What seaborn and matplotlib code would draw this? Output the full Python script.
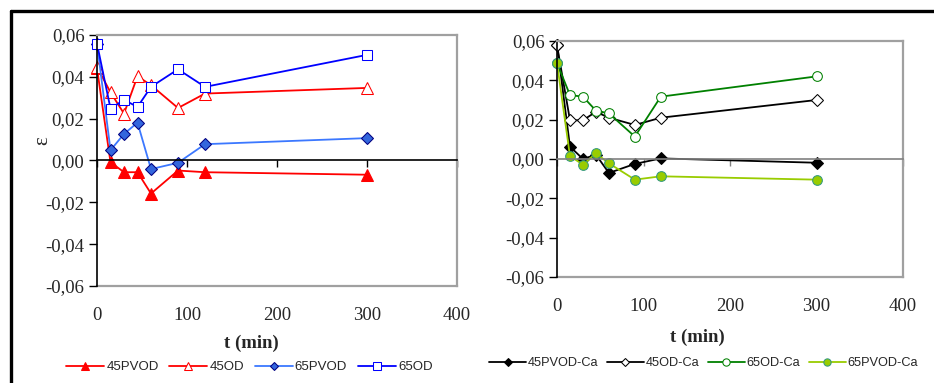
import matplotlib
matplotlib.use("Agg")
import matplotlib.pyplot as plt
import seaborn as sns
import numpy as np

sns.set_theme(style="white")
plt.rcParams["font.family"] = ["Liberation Serif", "DejaVu Serif"]

# Sampling times (min)
t = [0, 15, 30, 45, 60, 90, 120, 300]

# Left panel: strain without calcium
eps_45PVOD = [0.0441, -0.0008, -0.0056, -0.0056, -0.0158, -0.0048, -0.0056, -0.0068]
eps_45OD = [0.0447, 0.0326, 0.0224, 0.0403, 0.0360, 0.0251, 0.0320, 0.0347]
eps_65PVOD = [0.0559, 0.0049, 0.0127, 0.0181, -0.0041, -0.0011, 0.0078, 0.0107]
eps_65OD = [0.0559, 0.0248, 0.0290, 0.0256, 0.0352, 0.0436, 0.0352, 0.0505]

# Right panel: strain with calcium
eps_45PVOD_Ca = [0.0581, 0.0063, 0.0000, 0.0022, -0.0071, -0.0025, 0.0003, -0.0019]
eps_45OD_Ca = [0.0578, 0.0197, 0.0197, 0.0240, 0.0210, 0.0173, 0.0210, 0.0300]
eps_65OD_Ca = [0.0488, 0.0325, 0.0317, 0.0246, 0.0232, 0.0114, 0.0317, 0.0420]
eps_65PVOD_Ca = [0.0488, 0.0015, -0.0029, 0.0029, -0.0022, -0.0105, -0.0088, -0.0105]

y_ticks = [-0.06, -0.04, -0.02, 0.00, 0.02, 0.04, 0.06]
x_ticks = [0, 100, 200, 300, 400]

left_series = [
    ("45PVOD", eps_45PVOD, dict(color="#FF0000", marker="^", markersize=8,
                                markerfacecolor="#FF0000", markeredgecolor="#FF0000")),
    ("45OD", eps_45OD, dict(color="#FF0000", marker="^", markersize=8,
                            markerfacecolor="white", markeredgecolor="#FF0000")),
    ("65PVOD", eps_65PVOD, dict(color="#3C78FF", marker="D", markersize=6,
                                markerfacecolor="#3366DD", markeredgecolor="#000080")),
    ("65OD", eps_65OD, dict(color="#0000FF", marker="s", markersize=7,
                            markerfacecolor="white", markeredgecolor="#0000FF")),
]
right_series = [
    ("45PVOD-Ca", eps_45PVOD_Ca, dict(color="#000000", marker="D", markersize=6,
                                      markerfacecolor="#000000", markeredgecolor="#000000")),
    ("45OD-Ca", eps_45OD_Ca, dict(color="#000000", marker="D", markersize=6,
                                  markerfacecolor="white", markeredgecolor="#000000")),
    ("65OD-Ca", eps_65OD_Ca, dict(color="#008000", marker="o", markersize=7,
                                  markerfacecolor="white", markeredgecolor="#008000")),
    ("65PVOD-Ca", eps_65PVOD_Ca, dict(color="#99CC00", marker="o", markersize=7,
                                      markerfacecolor="#99CC00", markeredgecolor="#339980")),
]

W, H = 934, 383
fig = plt.figure(figsize=(W / 100, H / 100), dpi=100)


def px_axes(x0, y0, x1, y1):
    return fig.add_axes([x0 / W, 1 - y1 / H, (x1 - x0) / W, (y1 - y0) / H])


def style_axes(ax, zero_color):
    ax.set_xlim(0, 400)
    ax.set_ylim(-0.06, 0.06)
    ax.set_yticks(y_ticks)
    ax.set_yticklabels([f"{v:.2f}".replace(".", ",") for v in y_ticks], fontsize=13.5)
    ax.tick_params(axis="y", direction="out", length=6, width=1, color="black",
                   pad=3, left=True)
    for side in ("top", "right"):
        ax.spines[side].set_color("#A0A0A0")
        ax.spines[side].set_linewidth(1.6)
    ax.spines["left"].set_color("black")
    ax.spines["left"].set_linewidth(1.2)
    # horizontal axis drawn through zero, with its ticks pointing down
    ax.spines["bottom"].set_position(("data", 0))
    ax.spines["bottom"].set_color(zero_color)
    ax.spines["bottom"].set_linewidth(1.2)
    ax.set_xticks(x_ticks)
    ax.tick_params(axis="x", direction="out", length=5, width=1, color=zero_color,
                   bottom=True, labelbottom=False)
    # frame bottom edge carrying the time labels
    sec = ax.secondary_xaxis("bottom")
    sec.set_xticks(x_ticks)
    sec.set_xticklabels([str(v) for v in x_ticks], fontsize=13.5)
    sec.tick_params(length=0, pad=15)
    sec.spines["bottom"].set_color("#A0A0A0")
    sec.spines["bottom"].set_linewidth(1.6)
    ax.set_xlabel("")
    ax.set_ylabel("")
    ax.grid(False)


def draw(ax, series):
    for name, vals, kw in series:
        sns.lineplot(x=t, y=vals, ax=ax, label=name, linewidth=1.3,
                     estimator=None, sort=False, clip_on=False, **kw)
    if ax.get_legend() is not None:
        ax.get_legend().remove()


axL = px_axes(97, 35, 457, 286)
axR = px_axes(557, 41, 903, 277)
draw(axL, left_series)
draw(axR, right_series)
style_axes(axL, "black")
style_axes(axR, "#808080")

fig.text(43 / W, 1 - 141 / H, "ε", rotation=90, fontsize=15,
         ha="center", va="center")
fig.text(251 / W, 1 - 343 / H, "t (min)", fontsize=13.5, fontweight="bold",
         ha="center", va="center")
fig.text(697 / W, 1 - 337 / H, "t (min)", fontsize=13.5, fontweight="bold",
         ha="center", va="center")

leg_kw = dict(ncol=4, frameon=False, loc="center left", handlelength=2.9,
              handletextpad=0.15, borderpad=0, borderaxespad=0,
              markerscale=0.75)
hL, lL = axL.get_legend_handles_labels()
fig.legend(hL, lL, bbox_to_anchor=(66 / W, 1 - 367 / H), columnspacing=0.8,
           prop={"family": "Liberation Sans", "size": 9.5}, **leg_kw)
hR, lR = axR.get_legend_handles_labels()
fig.legend(hR, lR, bbox_to_anchor=(489 / W, 1 - 363 / H), columnspacing=0.65,
           prop={"family": "Liberation Sans", "size": 9.2}, **leg_kw)

# outer black frame along the top and left edges
fig.add_artist(plt.Line2D([11 / W, 1.0], [1 - 11 / H, 1 - 11 / H],
                          color="black", linewidth=2.4, transform=fig.transFigure))
fig.add_artist(plt.Line2D([11 / W, 11 / W], [1 - 11 / H, 0.0],
                          color="black", linewidth=2.4, transform=fig.transFigure))

fig.savefig("out.png", dpi=100)
